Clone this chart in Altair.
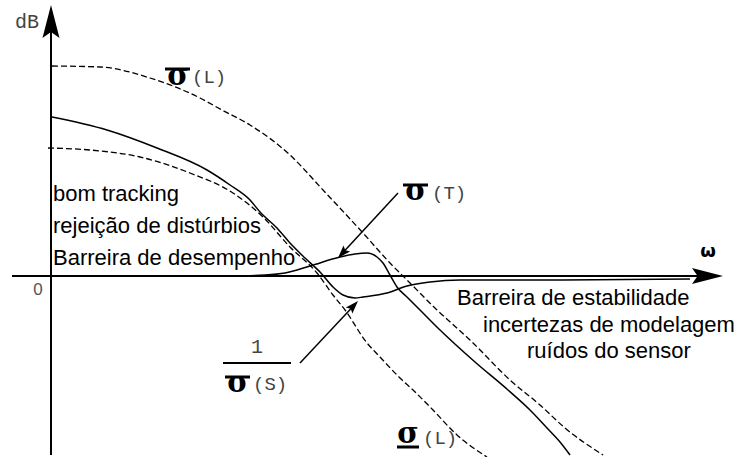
import altair as alt
import numpy as np
import pandas as pd

# Singular-value loop-shaping sketch: frequency ω (horizontal) against gain in dB.
# Coordinates are in arbitrary sketch units with the origin where the two axes cross.

# upper bound on the loop gain  σ̄(L)
UPPER_L_W = [1, 49, 99, 149, 171, 199, 239, 272, 312, 339, 359, 386, 419, 459, 489, 514, 552]
UPPER_L_DB = [210, 209, 198, 178, 166, 151, 121, 86, 43, 13, -7, -34, -64, -104, -129, -152, -179]

# lower bound on the loop gain  σ(L)
LOWER_L_W = [-3, 39, 89, 139, 182, 212, 239, 266, 282, 294, 316, 329, 349, 362, 382, 406, 436]
LOWER_L_DB = [128, 126, 119, 103, 83, 59, 29, 3, -19, -34, -67, -81, -102, -114, -134, -159, -181]

# inverse sensitivity  1/σ̄(S)
INV_S_W = [1, 56, 106, 156, 179, 199, 209, 226, 239, 254, 269, 282, 292, 304, 312, 336, 356, 379, 409, 499, 639]
INV_S_DB = [159, 146, 128, 106, 91, 76, 64, 48, 33, 18, 4, -11, -19, -22, -21, -17, -10, -6, -4, -4, -3]

# complementary sensitivity  σ̄(T)
T_W = [1, 99, 179, 214, 234, 259, 289, 304, 316, 326, 332, 339, 346, 357, 369, 389, 424, 457, 479, 496, 509, 519]
T_DB = [0, 0, 0, 1, 3, 10, 19, 22, 23, 19, 13, 1, -11, -22, -34, -54, -86, -114, -134, -152, -166, -179]

# visible window in sketch units
X_DOMAIN = [-51, 685]
Y_DOMAIN = [-181, 276]

xs = alt.Scale(domain=X_DOMAIN, nice=False, zero=False)
ys = alt.Scale(domain=Y_DOMAIN, nice=False, zero=False)
X = lambda f: alt.X(f, type="quantitative", scale=xs, axis=None)
Y = lambda f: alt.Y(f, type="quantitative", scale=ys, axis=None)


def curve(name, w, db):
    return pd.DataFrame({"curve": name, "w": w, "db": db, "k": range(len(w))})


solid = pd.concat([curve("inv_s", INV_S_W, INV_S_DB), curve("t", T_W, T_DB)])
dashed = pd.concat([curve("upper_l", UPPER_L_W, UPPER_L_DB), curve("lower_l", LOWER_L_W, LOWER_L_DB)])

solid_layer = alt.Chart(solid).mark_line(color="black", strokeWidth=1.5, interpolate="monotone").encode(
    x=X("w"), y=Y("db"), detail="curve:N", order="k:Q")
dashed_layer = alt.Chart(dashed).mark_line(color="black", strokeWidth=1.3, strokeDash=[6, 3],
                                           interpolate="monotone").encode(
    x=X("w"), y=Y("db"), detail="curve:N", order="k:Q")

# axes and pointer arrows: start point, tip, head length and half width (px)
ARROWS = pd.DataFrame({
    "name": ["db_axis", "w_axis", "t_ptr", "s_ptr"],
    "w0": [0, -39, 347, 249],
    "db0": [-179, 0, 83, -87],
    "w1": [0, 672, 287, 307],
    "db1": [271, 0, 18, -25],
    "head": [33, 31, 13, 13],
    "half": [8.5, 8.0, 4.5, 4.5],
    "lw": [2.0, 2.0, 1.5, 1.5],
})
dx = ARROWS["w1"] - ARROWS["w0"]
dy = ARROWS["db1"] - ARROWS["db0"]
length = np.hypot(dx, dy)
ux, uy = dx / length, dy / length
# shaft stops inside the head so the tip stays sharp
ARROWS["ws"] = ARROWS["w1"] - ux * ARROWS["head"] * 0.7
ARROWS["dbs"] = ARROWS["db1"] - uy * ARROWS["head"] * 0.7
ARROWS["angle"] = (np.degrees(np.arctan2(dx, dy)) + 360) % 360
ARROWS["size"] = (2 * ARROWS["head"]) ** 2

shafts = alt.Chart(ARROWS).mark_rule(color="black").encode(
    x=X("w0"), y=Y("db0"), x2="ws", y2="dbs",
    strokeWidth=alt.StrokeWidth("lw:Q", scale=None))

HEAD_PATH = "M0,0L-{h},1L0,0.82L{h},1Z"
heads = []
for _, a in ARROWS.iterrows():
    path = HEAD_PATH.format(h=round(a["half"] / a["head"], 3))
    heads.append(alt.Chart(ARROWS[ARROWS["name"] == a["name"]]).mark_point(
        shape=path, filled=True, color="black", opacity=1, strokeWidth=0).encode(
        x=X("w1"), y=Y("db1"),
        angle=alt.Angle("angle:Q", scale=None),
        size=alt.Size("size:Q", scale=None)))

# bars over / under the sigmas and the fraction line
BARS = pd.DataFrame({
    "w0": [114, 352, 174, 172, 346],
    "w1": [139, 377, 199, 240, 368],
    "db": [207, 91, -101, -87, -171],
    "lw": [3.0, 3.0, 3.0, 2.0, 3.0],
})
bars = alt.Chart(BARS).mark_rule(color="black").encode(
    x=X("w0"), x2="w1", y=Y("db"),
    strokeWidth=alt.StrokeWidth("lw:Q", scale=None))

SIGMA = pd.DataFrame({"w": [127, 365, 187, 357], "db": [191, 76, -116, -167], "t": ["σ"] * 4})
sigmas = alt.Chart(SIGMA).mark_text(font="DejaVu Serif", fontWeight="bold", fontSize=29,
                                    align="center", baseline="alphabetic", color="black").encode(
    x=X("w"), y=Y("db"), text="t:N")

MONO = pd.DataFrame({
    "w": [141, 381, 202, 372, 206, -36],
    "db": [193, 77, -114, -168, -77, 248],
    "t": ["(L)", "(T)", "(S)", "(L)", "1", "dB"],
    "a": ["left", "left", "left", "left", "center", "left"],
    "fs": [19, 19, 19, 19, 20, 20],
})
mono_left = alt.Chart(MONO[MONO["a"] == "left"]).mark_text(
    font="Liberation Mono", align="left", baseline="alphabetic", color="#444").encode(
    x=X("w"), y=Y("db"), text="t:N", size=alt.Size("fs:Q", scale=None))
mono_center = alt.Chart(MONO[MONO["a"] == "center"]).mark_text(
    font="Liberation Mono", align="center", baseline="alphabetic", color="#444").encode(
    x=X("w"), y=Y("db"), text="t:N", size=alt.Size("fs:Q", scale=None))

NOTES = pd.DataFrame({
    "w": [2, 2, 2, 406, 432, 476],
    "db": [75, 43, 11, -29, -56, -82],
    "t": ["bom tracking", "rejeição de distúrbios", "Barreira de desempenho",
          "Barreira de  estabilidade", "incertezas de modelagem", "ruídos do sensor"],
})
notes = alt.Chart(NOTES).mark_text(
    font="Liberation Sans", fontSize=22, align="left",
    baseline="alphabetic", color="black").encode(x=X("w"), y=Y("db"), text="t:N")

ORIGIN = pd.DataFrame({"w": [-13], "db": [-19], "t": ["0"]})
origin = alt.Chart(ORIGIN).mark_text(font="Liberation Sans", fontSize=17, align="center",
                                     baseline="alphabetic", color="#555").encode(
    x=X("w"), y=Y("db"), text="t:N")

OMEGA = pd.DataFrame({"w": [657], "db": [19], "t": ["ω"]})
omega = alt.Chart(OMEGA).mark_text(font="DejaVu Sans", fontWeight="bold", fontSize=18,
                                   align="center", baseline="alphabetic", color="black").encode(
    x=X("w"), y=Y("db"), text="t:N")

chart = alt.layer(
    dashed_layer, solid_layer, shafts, *heads, bars, sigmas, mono_left, mono_center,
    notes, origin, omega,
).properties(
    width=736, height=457, padding=0, autosize=alt.AutoSizeParams(type="none"),
    background="white",
).configure_view(stroke=None)

chart.save("out.html", embed_options={"renderer": "svg", "actions": False})
